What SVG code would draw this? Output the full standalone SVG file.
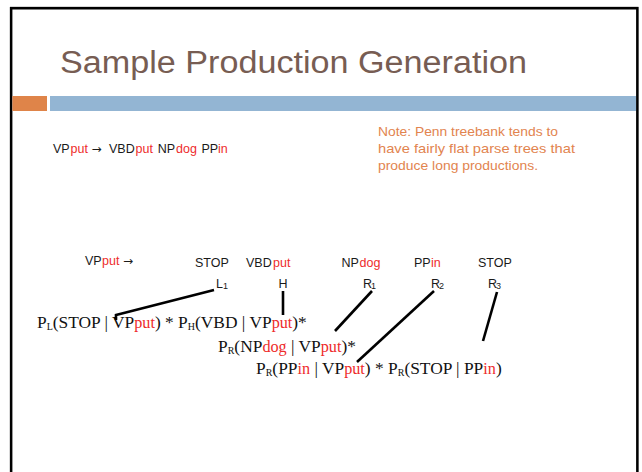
<svg xmlns="http://www.w3.org/2000/svg" width="642" height="472" viewBox="0 0 642 472">
<style>
.s{font-family:"Liberation Sans",Arial,sans-serif;fill:#1a1a1a}
.sm{font-size:12.5px}
.sr{font-size:12.5px;fill:#ee2b2b}
.ar{font-family:"DejaVu Sans",sans-serif;font-size:12px}
.num{font-size:9px}
.f{font-family:"Liberation Serif","Times New Roman",serif;font-size:17.4px;fill:#111}
.fr{font-size:16.2px;fill:#ee2b2b}
.sb{font-size:10px}
.note{font-family:"Liberation Sans",Arial,sans-serif;font-size:13px;fill:#e2844f}
.conn{stroke:#000;stroke-width:2.6;fill:none;stroke-linecap:butt}
</style>
<rect x="0" y="0" width="642" height="472" fill="#fff"/>
<g id="frame">
<path d="M10,472 V7 H638.5 V472" fill="none" stroke="#b0b0b0" stroke-width="1"/>
<path d="M11.2,472 V8.2 H637.3 V472" fill="none" stroke="#000" stroke-width="2.4"/>
</g>
<g id="title">
<text x="60" y="73" font-family="'Liberation Sans',Arial,sans-serif" font-size="31" fill="#775d53" textLength="467" lengthAdjust="spacingAndGlyphs">Sample Production Generation</text>
</g>
<g id="header-bar">
<rect x="12.4" y="96" width="34.6" height="15" fill="#df8449"/>
<rect x="50" y="96" width="586" height="15" fill="#93b5d3"/>
</g>
<g id="rule">
<text class="s sm" y="153"><tspan x="53">VP</tspan><tspan class="sr" x="70.5">put</tspan><tspan class="ar" x="91.5">→</tspan><tspan x="109">VBD</tspan><tspan class="sr" x="135.5">put</tspan><tspan x="157.7">NP</tspan><tspan class="sr" x="176">dog</tspan><tspan x="201.5">PP</tspan><tspan class="sr" x="218">in</tspan></text>
</g>
<g id="note">
<text class="note" x="378" y="135.5" textLength="180" lengthAdjust="spacingAndGlyphs">Note: Penn treebank tends to</text>
<text class="note" x="378" y="152.5" textLength="197" lengthAdjust="spacingAndGlyphs">have fairly flat parse trees that</text>
<text class="note" x="378" y="169.5" textLength="160" lengthAdjust="spacingAndGlyphs">produce long productions.</text>
</g>
<g id="node-head">
<text class="s sm" y="265"><tspan x="85">VP</tspan><tspan class="sr" x="102">put</tspan><tspan class="ar" x="123">→</tspan></text>
</g>
<g id="node-stop-left">
<text class="s sm" x="195" y="267">STOP</text>
<text class="s sm" y="288"><tspan x="216">L</tspan><tspan class="num" x="223" dy="1">1</tspan></text>
</g>
<g id="node-vbd">
<text class="s sm" y="267"><tspan x="246">VBD</tspan><tspan class="sr" x="273">put</tspan></text>
<text class="s sm" x="278.5" y="288">H</text>
</g>
<g id="node-np">
<text class="s sm" y="267"><tspan x="341.5">NP</tspan><tspan class="sr" x="359.5">dog</tspan></text>
<text class="s sm" y="288"><tspan x="363">R</tspan><tspan class="num" x="371" dy="1">1</tspan></text>
</g>
<g id="node-pp">
<text class="s sm" y="267"><tspan x="414">PP</tspan><tspan class="sr" x="431">in</tspan></text>
<text class="s sm" y="288"><tspan x="431">R</tspan><tspan class="num" x="439" dy="1">2</tspan></text>
</g>
<g id="node-stop-right">
<text class="s sm" x="478" y="267">STOP</text>
<text class="s sm" y="288"><tspan x="488">R</tspan><tspan class="num" x="496" dy="1">3</tspan></text>
</g>
<g id="formula-1">
<text class="f" x="37" y="328">P<tspan class="sb" dy="2">L</tspan><tspan dy="-2">(STOP | VP</tspan><tspan class="fr">put</tspan>) * P<tspan class="sb" dy="2">H</tspan><tspan dy="-2">(VBD | VP</tspan><tspan class="fr">put</tspan>)*</text>
</g>
<g id="formula-2">
<text class="f" x="218" y="352">P<tspan class="sb" dy="2">R</tspan><tspan dy="-2">(NP</tspan><tspan class="fr">dog</tspan> | VP<tspan class="fr">put</tspan>)*</text>
</g>
<g id="formula-3">
<text class="f" x="256" y="374">P<tspan class="sb" dy="2">R</tspan><tspan dy="-2">(PP</tspan><tspan class="fr">in</tspan> | VP<tspan class="fr">put</tspan>) * P<tspan class="sb" dy="2">R</tspan><tspan dy="-2">(STOP | PP</tspan><tspan class="fr">in</tspan>)</text>
</g>
<g id="connectors">
<polyline class="conn" points="214,290 116,315 116,320"/>
<line class="conn" x1="283" y1="291" x2="283" y2="315"/>
<line class="conn" x1="372" y1="291" x2="335" y2="331"/>
<line class="conn" x1="434" y1="291" x2="357" y2="362"/>
<line class="conn" x1="497" y1="292" x2="483" y2="341"/>
</g>
</svg>
